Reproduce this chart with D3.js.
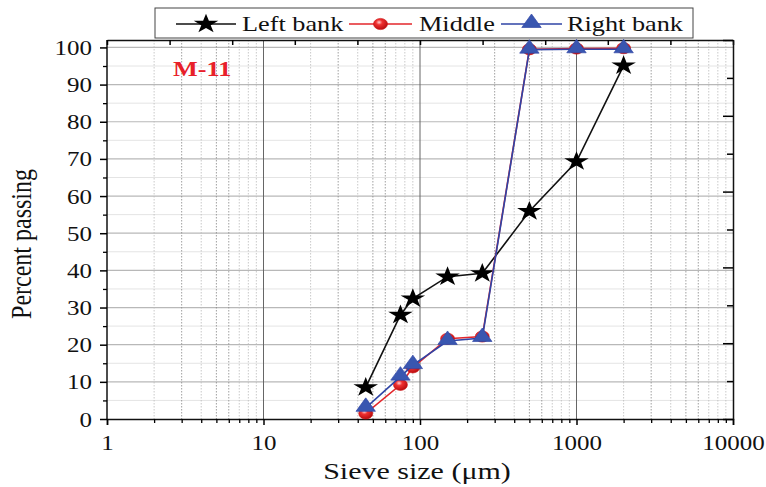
<!DOCTYPE html>
<html>
<head>
<meta charset="utf-8">
<script src="https://cdn.jsdelivr.net/npm/d3@7"></script>
<style>
  body { margin: 0; background: #fff; }
  svg { display: block; font-family: 'Liberation Serif', 'Times New Roman', serif; }
</style>
</head>
<body>
<svg id="chart" width="766" height="487"></svg>
<script>
// Sieve sizes (um) and percent passing per sampling point
const sieveSizes = [45, 75, 90, 150, 250, 500, 1000, 2000];
const leftBank = [8.5, 28.0, 32.4, 38.3, 39.2, 55.9, 69.3, 95.1];
const middle = [1.5, 9.2, 13.9, 21.6, 22.2, 99.5, 99.7, 99.8];
const rightBank = [3.0, 11.4, 14.5, 21.0, 21.8, 99.4, 99.5, 99.5];
const xTickLabels = [1, 10, 100, 1000, 10000];
const yTickLabels = [0, 10, 20, 30, 40, 50, 60, 70, 80, 90, 100];

const color = {
  black: '#111',
  red: '#e3262b',
  blue: '#2f44a6',
  label: '#e8202a'
};

// the original figure is stretched sideways, so glyphs are widened too
const stretch = 1.25;

const svg = d3.select('#chart');
const frame = { left: 107, right: 733, top: 40, bottom: 419 };

const x = d3.scaleLog().domain([1, 10000]).range([frame.left, frame.right]);
const y = d3.scaleLinear().domain([0, 102]).range([frame.bottom, frame.top]);

// gradient for the shiny red ball markers
const defs = svg.append('defs');
const grad = defs.append('radialGradient').attr('id', 'ball').attr('cx', '40%').attr('cy', '35%').attr('r', '65%');
grad.append('stop').attr('offset', '0%').attr('stop-color', '#ffd0d0');
grad.append('stop').attr('offset', '35%').attr('stop-color', '#f03030');
grad.append('stop').attr('offset', '100%').attr('stop-color', '#b80d10');

// Grid
const grid = svg.append('g').attr('class', 'grid');
const minorX = [];
for (let d = 1; d < 10000; d *= 10) {
  for (let k = 2; k <= 9; k++) minorX.push(d * k);
}
const minorY = d3.range(5, 100, 10);

grid.selectAll('line.hminor').data(minorY).join('line')
  .attr('x1', frame.left).attr('x2', frame.right)
  .attr('y1', d => y(d)).attr('y2', d => y(d))
  .attr('stroke', '#e4e4e4').attr('stroke-width', 1);

grid.selectAll('line.hmajor').data(yTickLabels.slice(1)).join('line')
  .attr('x1', frame.left).attr('x2', frame.right)
  .attr('y1', d => y(d)).attr('y2', d => y(d))
  .attr('stroke', '#b8b8b8').attr('stroke-width', 1.2);

grid.selectAll('line.vminor').data(minorX).join('line')
  .attr('x1', d => x(d)).attr('x2', d => x(d))
  .attr('y1', frame.top).attr('y2', frame.bottom)
  .attr('stroke', d => [3, 5, 6].includes(Math.round(d / Math.pow(10, Math.floor(Math.log10(d))))) ? '#888' : '#bbb')
  .attr('stroke-width', 0.8)
  .attr('stroke-dasharray', '1.5,1.5');

grid.selectAll('line.vmajor').data([10, 100, 1000]).join('line')
  .attr('x1', d => x(d)).attr('x2', d => x(d))
  .attr('y1', frame.top).attr('y2', frame.bottom)
  .attr('stroke', '#666').attr('stroke-width', 1);

// Axes
function stretchText(sel) {
  sel.selectAll('.tick text').each(function() {
    const t = d3.select(this);
    const tx = +t.attr('x') || 0;
    const ty = +t.attr('y') || 0;
    t.attr('transform', `translate(${tx},${ty}) scale(${stretch},1)`).attr('x', 0).attr('y', 0);
  });
}

const bottomAxis = svg.append('g')
  .attr('transform', `translate(0,${frame.bottom})`)
  .call(d3.axisBottom(x).tickValues(xTickLabels).tickFormat(d3.format('d')).tickSize(6).tickPadding(11));
bottomAxis.selectAll('.tick text').attr('font-size', 20).attr('fill', '#111').attr('font-family', 'Liberation Serif');
bottomAxis.selectAll('.tick line').attr('stroke-width', 1.5);
stretchText(bottomAxis);

svg.append('g')
  .attr('transform', `translate(0,${frame.bottom})`)
  .call(d3.axisBottom(x).tickValues(minorX).tickFormat('').tickSize(4))
  .call(g => g.select('.domain').remove())
  .selectAll('.tick line').attr('stroke-width', 1.3);

const leftAxis = svg.append('g')
  .attr('transform', `translate(${frame.left},0)`)
  .call(d3.axisLeft(y).tickValues(yTickLabels).tickSize(7).tickPadding(8));
leftAxis.selectAll('.tick text').attr('font-size', 20).attr('fill', '#111').attr('font-family', 'Liberation Serif').attr('dy', '0.35em');
leftAxis.selectAll('.tick line').attr('stroke-width', 1.5);
leftAxis.select('.domain').attr('d', `M0,${frame.bottom}V${frame.top}`);
stretchText(leftAxis);

svg.append('g')
  .attr('transform', `translate(${frame.left},0)`)
  .call(d3.axisLeft(y).tickValues(minorY).tickFormat('').tickSize(4))
  .call(g => g.select('.domain').remove())
  .selectAll('.tick line').attr('stroke-width', 1.3);

// Top and right axes run on plain linear spacing in the original
const xTop = d3.scaleLinear().domain([0, 10]).range([frame.left, frame.right]);
const yRight = d3.scaleLinear().domain([0, 10]).range([frame.bottom, frame.top]);

svg.append('g')
  .attr('transform', `translate(0,${frame.top})`)
  .call(d3.axisTop(xTop).ticks(10).tickFormat('').tickSizeInner(-5).tickSizeOuter(0))
  .selectAll('.tick line').attr('stroke-width', 1.5);

const rightAxis = svg.append('g')
  .attr('transform', `translate(${frame.right},0)`)
  .call(d3.axisRight(yRight).ticks(10).tickFormat('').tickSizeInner(-6).tickSizeOuter(0));
rightAxis.selectAll('.tick line')
  .attr('x2', d => (d % 2 === 0 ? -10 : -6))
  .attr('stroke-width', 1.5);

svg.selectAll('.domain').attr('stroke', '#111').attr('stroke-width', 1.5);

// Series
const series = [
  { name: 'Left bank', values: leftBank, color: color.black, marker: 'star' },
  { name: 'Middle', values: middle, color: color.red, marker: 'ball' },
  { name: 'Right bank', values: rightBank, color: color.blue, marker: 'triangle' }
];

const line = d3.line().x(d => x(d[0])).y(d => y(d[1]));
const starPath = d3.symbol().type(d3.symbolStar).size(120)();
const triPath = d3.symbol().type(d3.symbolTriangle).size(105)();

function drawMarker(g, kind, stroke) {
  if (kind === 'star') {
    g.append('path').attr('d', starPath).attr('fill', '#000')
      .attr('transform', `scale(${stretch},1)`);
  } else if (kind === 'ball') {
    g.append('ellipse').attr('rx', 7).attr('ry', 5.6)
      .attr('fill', 'url(#ball)').attr('stroke', '#d01010').attr('stroke-width', 0.6);
  } else {
    g.append('path').attr('d', triPath).attr('fill', '#3956b0')
      .attr('stroke', stroke).attr('stroke-width', 0.6)
      .attr('transform', `translate(0,-1) scale(${stretch},1)`);
  }
}

const plot = svg.append('g').attr('class', 'plot');
series.forEach(s => {
  const pts = sieveSizes.map((v, i) => [v, s.values[i]]);
  plot.append('path').datum(pts)
    .attr('d', line).attr('fill', 'none')
    .attr('stroke', s.color).attr('stroke-width', 1.6);
  plot.selectAll(null).data(pts).join('g')
    .attr('transform', d => `translate(${x(d[0])},${y(d[1])})`)
    .each(function() { drawMarker(d3.select(this), s.marker, s.color); });
});

// Label inside the plot
svg.append('text')
  .attr('transform', `translate(173,76) scale(${stretch},1)`)
  .attr('font-size', 21).attr('font-weight', 'bold').attr('fill', color.label)
  .text('M-11');

// Axis titles
svg.append('text')
  .attr('transform', `translate(417,479) scale(${stretch},1)`)
  .attr('text-anchor', 'middle').attr('font-size', 24).attr('fill', '#111')
  .text('Sieve size (\u03bcm)');

svg.append('text')
  .attr('transform', `translate(31,244) scale(${stretch},1) rotate(-90)`)
  .attr('text-anchor', 'middle').attr('font-size', 24).attr('fill', '#111')
  .text('Percent passing');

// Legend
const legend = svg.append('g').attr('class', 'legend');
legend.append('rect')
  .attr('x', 155).attr('y', 8).attr('width', 538).attr('height', 30)
  .attr('fill', '#fff').attr('stroke', '#444').attr('stroke-width', 1);

const legendPos = [
  { x1: 176, x2: 236, tx: 242 },
  { x1: 349, x2: 412, tx: 419 },
  { x1: 501, x2: 562, tx: 567 }
];
series.forEach((s, i) => {
  const p = legendPos[i];
  const item = legend.append('g');
  item.append('line')
    .attr('x1', p.x1).attr('x2', p.x2).attr('y1', 24).attr('y2', 24)
    .attr('stroke', s.color).attr('stroke-width', 1.6);
  const m = item.append('g').attr('transform', `translate(${(p.x1 + p.x2) / 2},24)`);
  drawMarker(m, s.marker, s.color);
  item.append('text')
    .attr('transform', `translate(${p.tx},31) scale(${stretch},1)`)
    .attr('font-size', 21).attr('fill', '#111')
    .text(s.name);
});
</script>
</body>
</html>
